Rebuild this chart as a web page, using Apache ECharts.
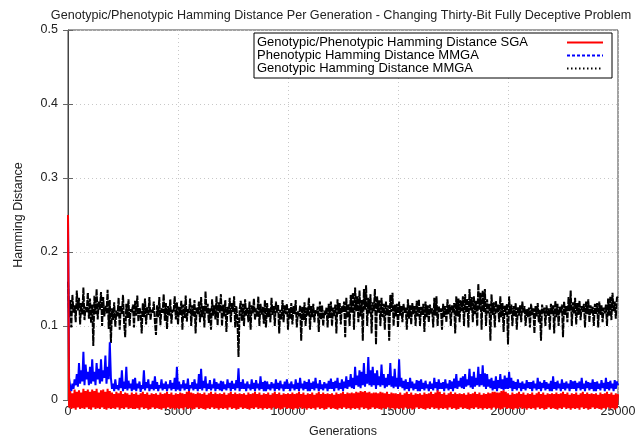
<!DOCTYPE html>
<html>
<head>
<meta charset="utf-8">
<title>Hamming Distance Per Generation</title>
<script src="https://cdn.jsdelivr.net/npm/echarts@6/dist/echarts.min.js"></script>
<style>
  html, body { margin: 0; padding: 0; background: #fff; }
  #chart { width: 635px; height: 439px; }
</style>
</head>
<body>
<div id="chart"></div>
<script>
// Sampled every 50 generations, 0 .. 25000
const STEP = 50;

const seriesNames = [
  'Genotypic/Phenotypic Hamming Distance SGA',
  'Phenotypic Hamming Distance MMGA',
  'Genotypic Hamming Distance MMGA'
];

const xTicks = [0, 5000, 10000, 15000, 20000, 25000];
const yTicks = [0, 0.1, 0.2, 0.3, 0.4, 0.5];

// SGA genotypic/phenotypic distance (one row = 1000 generations)
const sgaDistance = [
  0.25, -0.01, 0.012, -0.012, 0.009, -0.011, 0.014, -0.013, 0.011, -0.01, 0.013, -0.012, 0.01, -0.011, 0.015, -0.012, 0.012, -0.01, 0.014, -0.012,
  0.011, -0.013, 0.014, -0.01, 0.012, -0.012, 0.015, -0.011, 0.01, -0.012, 0.013, -0.01, 0.014, -0.012, 0.011, -0.013, 0.015, -0.011, 0.012, -0.012,
  0.01, -0.011, 0.008, -0.012, 0.011, -0.01, 0.009, -0.013, 0.012, -0.011, 0.008, -0.012, 0.01, -0.01, 0.009, -0.012, 0.007, -0.011, 0.01, -0.012,
  0.008, -0.012, 0.01, -0.011, 0.007, -0.013, 0.009, -0.01, 0.011, -0.012, 0.008, -0.011, 0.01, -0.013, 0.007, -0.012, 0.009, -0.01, 0.008, -0.012,
  0.009, -0.011, 0.007, -0.012, 0.01, -0.013, 0.008, -0.011, 0.009, -0.012, 0.011, -0.01, 0.008, -0.012, 0.01, -0.011, 0.007, -0.013, 0.009, -0.011,
  0.008, -0.012, 0.01, -0.011, 0.009, -0.013, 0.008, -0.01, 0.011, -0.012, 0.012, -0.011, 0.01, -0.013, 0.009, -0.012, 0.008, -0.01, 0.01, -0.012,
  0.009, -0.011, 0.008, -0.012, 0.01, -0.013, 0.007, -0.011, 0.009, -0.012, 0.011, -0.01, 0.008, -0.012, 0.01, -0.011, 0.008, -0.013, 0.009, -0.011,
  0.008, -0.012, 0.01, -0.011, 0.007, -0.013, 0.009, -0.01, 0.011, -0.012, 0.008, -0.011, 0.01, -0.013, 0.008, -0.012, 0.009, -0.01, 0.008, -0.012,
  0.009, -0.011, 0.007, -0.012, 0.01, -0.013, 0.008, -0.011, 0.009, -0.012, 0.011, -0.01, 0.008, -0.012, 0.01, -0.011, 0.007, -0.013, 0.009, -0.011,
  0.008, -0.012, 0.01, -0.011, 0.007, -0.013, 0.009, -0.01, 0.011, -0.012, 0.008, -0.011, 0.01, -0.013, 0.007, -0.012, 0.009, -0.01, 0.008, -0.012,
  0.009, -0.011, 0.008, -0.012, 0.01, -0.013, 0.008, -0.011, 0.009, -0.012, 0.011, -0.01, 0.008, -0.012, 0.01, -0.011, 0.007, -0.013, 0.009, -0.011,
  0.008, -0.012, 0.01, -0.011, 0.007, -0.013, 0.009, -0.01, 0.011, -0.012, 0.008, -0.011, 0.01, -0.013, 0.008, -0.012, 0.009, -0.01, 0.008, -0.012,
  0.009, -0.011, 0.007, -0.012, 0.01, -0.013, 0.008, -0.011, 0.009, -0.012, 0.011, -0.01, 0.008, -0.012, 0.01, -0.011, 0.009, -0.013, 0.01, -0.011,
  0.009, -0.012, 0.011, -0.011, 0.01, -0.013, 0.012, -0.01, 0.011, -0.012, 0.012, -0.011, 0.01, -0.013, 0.011, -0.012, 0.009, -0.01, 0.01, -0.012,
  0.01, -0.011, 0.009, -0.012, 0.011, -0.013, 0.01, -0.011, 0.009, -0.012, 0.011, -0.01, 0.008, -0.012, 0.01, -0.011, 0.009, -0.013, 0.009, -0.011,
  0.008, -0.012, 0.01, -0.011, 0.007, -0.013, 0.009, -0.01, 0.011, -0.012, 0.008, -0.011, 0.01, -0.013, 0.007, -0.012, 0.009, -0.01, 0.008, -0.012,
  0.009, -0.011, 0.007, -0.012, 0.01, -0.013, 0.008, -0.011, 0.009, -0.012, 0.011, -0.01, 0.008, -0.012, 0.01, -0.011, 0.013, -0.013, 0.011, -0.011,
  0.008, -0.012, 0.01, -0.011, 0.007, -0.013, 0.009, -0.01, 0.011, -0.012, 0.008, -0.011, 0.01, -0.013, 0.008, -0.012, 0.009, -0.01, 0.008, -0.012,
  0.009, -0.011, 0.007, -0.012, 0.01, -0.013, 0.008, -0.011, 0.009, -0.012, 0.011, -0.01, 0.008, -0.012, 0.01, -0.011, 0.007, -0.013, 0.009, -0.011,
  0.008, -0.012, 0.01, -0.011, 0.009, -0.013, 0.011, -0.01, 0.011, -0.012, 0.01, -0.011, 0.01, -0.013, 0.012, -0.012, 0.013, -0.01, 0.011, -0.012,
  0.009, -0.011, 0.007, -0.012, 0.01, -0.013, 0.008, -0.011, 0.009, -0.012, 0.011, -0.01, 0.008, -0.012, 0.01, -0.011, 0.007, -0.013, 0.009, -0.011,
  0.008, -0.012, 0.01, -0.011, 0.007, -0.013, 0.009, -0.01, 0.011, -0.012, 0.008, -0.011, 0.01, -0.013, 0.007, -0.012, 0.009, -0.01, 0.008, -0.012,
  0.009, -0.011, 0.008, -0.012, 0.01, -0.013, 0.008, -0.011, 0.009, -0.012, 0.011, -0.01, 0.008, -0.012, 0.01, -0.011, 0.007, -0.013, 0.009, -0.011,
  0.008, -0.012, 0.01, -0.011, 0.007, -0.013, 0.009, -0.01, 0.011, -0.012, 0.008, -0.011, 0.01, -0.013, 0.008, -0.012, 0.009, -0.01, 0.008, -0.012,
  0.009, -0.011, 0.007, -0.012, 0.01, -0.013, 0.008, -0.011, 0.009, -0.012, 0.011, -0.01, 0.008, -0.012, 0.01, -0.011, 0.007, -0.013, 0.009, -0.011,
  0.008
];

// MMGA phenotypic distance
const mmgaPhenotypic = [
  0.25, 0.03, 0.018, 0.012, 0.022, 0.015, 0.028, 0.02, 0.035, 0.018, 0.05, 0.022, 0.04, 0.025, 0.065, 0.02, 0.048, 0.028, 0.038, 0.02,
  0.045, 0.022, 0.055, 0.025, 0.038, 0.02, 0.05, 0.028, 0.042, 0.022, 0.055, 0.025, 0.04, 0.03, 0.06, 0.022, 0.045, 0.028, 0.078, 0.03,
  0.015, 0.022, 0.012, 0.028, 0.015, 0.02, 0.013, 0.03, 0.016, 0.04, 0.012, 0.025, 0.015, 0.045, 0.013, 0.026, 0.016, 0.022, 0.012, 0.028,
  0.014, 0.03, 0.012, 0.022, 0.016, 0.025, 0.011, 0.02, 0.015, 0.04, 0.013, 0.024, 0.016, 0.028, 0.012, 0.021, 0.015, 0.026, 0.013, 0.032,
  0.015, 0.024, 0.012, 0.02, 0.016, 0.028, 0.013, 0.022, 0.015, 0.025, 0.012, 0.021, 0.016, 0.027, 0.013, 0.023, 0.015, 0.03, 0.012, 0.045,
  0.014, 0.025, 0.012, 0.021, 0.016, 0.027, 0.013, 0.022, 0.015, 0.029, 0.012, 0.02, 0.016, 0.024, 0.013, 0.028, 0.015, 0.022, 0.012, 0.035,
  0.015, 0.042, 0.013, 0.026, 0.016, 0.032, 0.012, 0.022, 0.015, 0.027, 0.013, 0.021, 0.016, 0.029, 0.012, 0.024, 0.015, 0.022, 0.013, 0.026,
  0.012, 0.025, 0.015, 0.021, 0.013, 0.028, 0.016, 0.023, 0.012, 0.026, 0.015, 0.022, 0.013, 0.027, 0.016, 0.043, 0.012, 0.024, 0.015, 0.028,
  0.015, 0.022, 0.012, 0.025, 0.016, 0.021, 0.013, 0.028, 0.015, 0.023, 0.012, 0.027, 0.016, 0.022, 0.013, 0.032, 0.015, 0.024, 0.012, 0.026,
  0.012, 0.025, 0.015, 0.021, 0.013, 0.024, 0.016, 0.022, 0.012, 0.028, 0.015, 0.023, 0.013, 0.026, 0.016, 0.021, 0.012, 0.025, 0.015, 0.028,
  0.015, 0.022, 0.012, 0.025, 0.016, 0.021, 0.013, 0.028, 0.015, 0.023, 0.012, 0.03, 0.016, 0.022, 0.013, 0.026, 0.015, 0.024, 0.012, 0.028,
  0.012, 0.023, 0.015, 0.025, 0.013, 0.03, 0.016, 0.022, 0.012, 0.027, 0.015, 0.021, 0.013, 0.024, 0.016, 0.022, 0.012, 0.026, 0.015, 0.029,
  0.015, 0.024, 0.012, 0.026, 0.016, 0.03, 0.013, 0.023, 0.015, 0.028, 0.012, 0.025, 0.016, 0.032, 0.015, 0.027, 0.018, 0.035, 0.016, 0.03,
  0.015, 0.045, 0.02, 0.033, 0.018, 0.04, 0.016, 0.038, 0.02, 0.05, 0.018, 0.035, 0.022, 0.058, 0.02, 0.04, 0.018, 0.045, 0.02, 0.036,
  0.015, 0.04, 0.02, 0.032, 0.018, 0.048, 0.02, 0.035, 0.016, 0.03, 0.018, 0.035, 0.02, 0.05, 0.018, 0.032, 0.016, 0.042, 0.018, 0.03,
  0.015, 0.055, 0.018, 0.03, 0.016, 0.026, 0.013, 0.028, 0.015, 0.024, 0.012, 0.03, 0.016, 0.025, 0.013, 0.022, 0.015, 0.027, 0.012, 0.026,
  0.012, 0.028, 0.015, 0.023, 0.013, 0.026, 0.016, 0.021, 0.012, 0.025, 0.015, 0.022, 0.013, 0.03, 0.016, 0.024, 0.012, 0.028, 0.015, 0.023,
  0.015, 0.024, 0.012, 0.028, 0.016, 0.022, 0.013, 0.027, 0.015, 0.025, 0.012, 0.029, 0.016, 0.035, 0.015, 0.026, 0.018, 0.03, 0.016, 0.032,
  0.015, 0.035, 0.018, 0.028, 0.02, 0.042, 0.017, 0.032, 0.015, 0.038, 0.018, 0.03, 0.02, 0.045, 0.018, 0.035, 0.02, 0.047, 0.018, 0.036,
  0.015, 0.035, 0.018, 0.028, 0.016, 0.03, 0.013, 0.026, 0.015, 0.032, 0.012, 0.027, 0.016, 0.035, 0.015, 0.028, 0.013, 0.033, 0.015, 0.03,
  0.015, 0.038, 0.016, 0.03, 0.012, 0.026, 0.015, 0.024, 0.013, 0.028, 0.016, 0.023, 0.012, 0.025, 0.015, 0.022, 0.013, 0.027, 0.016, 0.024,
  0.015, 0.024, 0.012, 0.026, 0.016, 0.022, 0.013, 0.03, 0.015, 0.025, 0.012, 0.023, 0.016, 0.027, 0.013, 0.024, 0.015, 0.022, 0.012, 0.026,
  0.012, 0.032, 0.015, 0.024, 0.013, 0.026, 0.016, 0.022, 0.012, 0.028, 0.015, 0.023, 0.013, 0.025, 0.016, 0.022, 0.012, 0.027, 0.015, 0.025,
  0.015, 0.026, 0.012, 0.023, 0.016, 0.025, 0.013, 0.03, 0.015, 0.022, 0.012, 0.026, 0.016, 0.024, 0.013, 0.023, 0.015, 0.028, 0.012, 0.024,
  0.012, 0.025, 0.015, 0.022, 0.013, 0.027, 0.016, 0.023, 0.012, 0.03, 0.015, 0.024, 0.013, 0.026, 0.016, 0.022, 0.012, 0.027, 0.015, 0.025,
  0.02
];

// MMGA genotypic distance
const mmgaGenotypic = [
  0.16, 0.112, 0.135, 0.098, 0.142, 0.118, 0.128, 0.105, 0.148, 0.121, 0.138, 0.102, 0.131, 0.115, 0.152, 0.108, 0.126, 0.119, 0.145, 0.11,
  0.137, 0.104, 0.129, 0.073, 0.141, 0.116, 0.15, 0.109, 0.133, 0.122, 0.146, 0.1, 0.139, 0.113, 0.128, 0.117, 0.149, 0.096, 0.135, 0.077,
  0.124, 0.108, 0.132, 0.099, 0.121, 0.113, 0.138, 0.095, 0.127, 0.116, 0.142, 0.104, 0.085, 0.13, 0.111, 0.136, 0.1, 0.123, 0.118, 0.129,
  0.098, 0.134, 0.114, 0.141, 0.106, 0.125, 0.119, 0.09, 0.131, 0.112, 0.137, 0.102, 0.126, 0.115, 0.139, 0.108, 0.122, 0.117, 0.133, 0.105,
  0.088, 0.128, 0.112, 0.139, 0.101, 0.124, 0.118, 0.143, 0.107, 0.131, 0.096, 0.127, 0.114, 0.136, 0.103, 0.122, 0.119, 0.14, 0.109, 0.132,
  0.102, 0.126, 0.115, 0.134, 0.095, 0.129, 0.111, 0.141, 0.106, 0.123, 0.118, 0.137, 0.1, 0.128, 0.113, 0.135, 0.09, 0.125, 0.116, 0.133,
  0.105, 0.139, 0.112, 0.127, 0.098, 0.147, 0.117, 0.13, 0.104, 0.124, 0.095, 0.136, 0.114, 0.128, 0.109, 0.14, 0.101, 0.132, 0.118, 0.143,
  0.1, 0.129, 0.113, 0.135, 0.092, 0.126, 0.116, 0.138, 0.105, 0.131, 0.119, 0.14, 0.098, 0.127, 0.11, 0.058, 0.122, 0.134, 0.107, 0.13,
  0.1, 0.136, 0.114, 0.125, 0.105, 0.133, 0.095, 0.128, 0.117, 0.137, 0.108, 0.124, 0.112, 0.14, 0.1, 0.13, 0.115, 0.126, 0.103, 0.135,
  0.098, 0.131, 0.112, 0.124, 0.105, 0.138, 0.115, 0.127, 0.1, 0.133, 0.118, 0.129, 0.09, 0.122, 0.109, 0.135, 0.105, 0.128, 0.116, 0.13,
  0.095, 0.124, 0.11, 0.131, 0.102, 0.127, 0.116, 0.135, 0.098, 0.12, 0.113, 0.128, 0.08, 0.126, 0.108, 0.132, 0.1, 0.125, 0.114, 0.138,
  0.095, 0.127, 0.112, 0.13, 0.105, 0.122, 0.117, 0.126, 0.092, 0.133, 0.109, 0.128, 0.1, 0.121, 0.115, 0.125, 0.098, 0.13, 0.111, 0.133,
  0.1, 0.125, 0.113, 0.129, 0.09, 0.136, 0.116, 0.131, 0.102, 0.127, 0.119, 0.133, 0.085, 0.138, 0.111, 0.13, 0.1, 0.142, 0.118, 0.145,
  0.095, 0.152, 0.12, 0.14, 0.105, 0.148, 0.113, 0.135, 0.08, 0.15, 0.122, 0.155, 0.1, 0.138, 0.117, 0.143, 0.09, 0.132, 0.12, 0.15,
  0.075, 0.14, 0.118, 0.135, 0.1, 0.138, 0.112, 0.13, 0.095, 0.133, 0.115, 0.128, 0.08, 0.142, 0.119, 0.145, 0.1, 0.129, 0.113, 0.13,
  0.098, 0.133, 0.114, 0.127, 0.105, 0.13, 0.118, 0.125, 0.095, 0.136, 0.11, 0.128, 0.102, 0.131, 0.116, 0.127, 0.1, 0.134, 0.113, 0.136,
  0.1, 0.126, 0.115, 0.13, 0.092, 0.133, 0.112, 0.128, 0.105, 0.129, 0.117, 0.124, 0.098, 0.138, 0.114, 0.14, 0.1, 0.127, 0.119, 0.124,
  0.095, 0.13, 0.112, 0.127, 0.105, 0.136, 0.116, 0.129, 0.1, 0.128, 0.118, 0.131, 0.09, 0.14, 0.113, 0.137, 0.105, 0.135, 0.12, 0.14,
  0.1, 0.143, 0.118, 0.137, 0.098, 0.15, 0.121, 0.139, 0.105, 0.14, 0.116, 0.134, 0.1, 0.157, 0.122, 0.145, 0.095, 0.148, 0.119, 0.15,
  0.1, 0.136, 0.117, 0.13, 0.08, 0.143, 0.115, 0.132, 0.098, 0.134, 0.118, 0.129, 0.105, 0.14, 0.112, 0.131, 0.092, 0.128, 0.115, 0.13,
  0.075, 0.14, 0.116, 0.129, 0.1, 0.127, 0.113, 0.131, 0.095, 0.126, 0.114, 0.128, 0.105, 0.133, 0.118, 0.127, 0.1, 0.123, 0.112, 0.125,
  0.098, 0.13, 0.115, 0.124, 0.09, 0.127, 0.113, 0.131, 0.105, 0.122, 0.08, 0.129, 0.117, 0.125, 0.1, 0.128, 0.114, 0.124, 0.095, 0.13,
  0.116, 0.128, 0.09, 0.134, 0.112, 0.13, 0.1, 0.126, 0.118, 0.129, 0.085, 0.133, 0.115, 0.127, 0.105, 0.139, 0.12, 0.148, 0.1, 0.132,
  0.117, 0.138, 0.102, 0.131, 0.115, 0.134, 0.108, 0.127, 0.119, 0.13, 0.098, 0.133, 0.116, 0.136, 0.105, 0.128, 0.117, 0.126, 0.1, 0.13,
  0.116, 0.131, 0.098, 0.133, 0.115, 0.128, 0.105, 0.125, 0.117, 0.129, 0.1, 0.137, 0.114, 0.14, 0.108, 0.145, 0.12, 0.133, 0.11, 0.138,
  0.14
];

const seriesColors = ['#ff0000', '#0000ff', '#000000'];
const legendDash = ['solid', [3, 2], [1.5, 2.5]];

const toPairs = values => values.map((v, i) => [i * STEP, v]);

const FONT = '"Liberation Sans", Arial, Helvetica, sans-serif';
const TEXT = '#222';

const chart = echarts.init(document.getElementById('chart'), null, { renderer: 'canvas' });

const xRange = { min: xTicks[0], max: xTicks[xTicks.length - 1], interval: xTicks[1] - xTicks[0] };
const yRange = { min: yTicks[0], max: yTicks[yTicks.length - 1], interval: yTicks[1] - yTicks[0] };
const innerTick = { show: true, inside: true, length: 5, lineStyle: { color: '#666' } };
const gridDots = { show: true, lineStyle: { color: '#c8c8c8', type: [1, 3] } };

chart.setOption({
  animation: false,
  backgroundColor: '#fff',
  title: {
    text: 'Genotypic/Phenotypic Hamming Distance Per Generation - Changing Thirty-Bit Fully Deceptive Problem',
    left: 336, top: 4, textAlign: 'center',
    textStyle: { fontFamily: FONT, fontSize: 12.6, fontWeight: 'normal', color: TEXT }
  },
  legend: {
    orient: 'vertical',
    right: 23, top: 33,
    align: 'right',
    backgroundColor: '#fff',
    borderColor: '#000', borderWidth: 1,
    padding: [3, 8, 3, 3],
    itemGap: 0,
    itemWidth: 36, itemHeight: 13,
    formatter: name => '{t|' + name + '}',
    textStyle: {
      fontFamily: FONT, fontSize: 13, color: '#000',
      rich: { t: { fontFamily: FONT, fontSize: 13, lineHeight: 13, color: '#000', width: 305, align: 'left' } }
    },
    data: seriesNames.map((n, i) => ({
      name: n,
      itemStyle: { opacity: 0 },
      lineStyle: { color: seriesColors[i], width: 2, type: legendDash[i] }
    }))
  },
  grid: {
    left: 68, right: 17, top: 30, bottom: 39,
    outerBoundsMode: 'none',
    containLabel: false,
    show: true, borderColor: '#444', borderWidth: 1, backgroundColor: 'transparent'
  },
  xAxis: [
    Object.assign({
      type: 'value',
      name: 'Generations', nameLocation: 'middle', nameGap: 25,
      nameTextStyle: { fontFamily: FONT, fontSize: 12.5, color: TEXT },
      axisLine: { show: true, lineStyle: { color: '#444' } },
      axisTick: innerTick,
      axisLabel: { fontFamily: FONT, fontSize: 12.5, color: TEXT, margin: 5, formatter: v => String(v) },
      splitLine: gridDots
    }, xRange),
    Object.assign({
      type: 'value', position: 'top',
      axisLine: { show: false },
      axisTick: innerTick,
      axisLabel: { show: false },
      splitLine: { show: false }
    }, xRange)
  ],
  yAxis: [
    Object.assign({
      type: 'value',
      name: 'Hamming Distance', nameLocation: 'middle', nameGap: 43, nameRotate: 90,
      nameTextStyle: { fontFamily: FONT, fontSize: 12.5, color: TEXT },
      axisLine: { show: true, lineStyle: { color: '#444' } },
      axisTick: innerTick,
      axisLabel: { fontFamily: FONT, fontSize: 12.5, color: TEXT, margin: 10 },
      splitLine: gridDots
    }, yRange),
    Object.assign({
      type: 'value', position: 'right',
      axisLine: { show: false },
      axisTick: innerTick,
      axisLabel: { show: false },
      splitLine: { show: false }
    }, yRange)
  ],
  series: [
    {
      name: seriesNames[0], type: 'line', data: toPairs(sgaDistance),
      symbol: 'none', clip: false, z: 5,
      lineStyle: { color: seriesColors[0], width: 2 },
      itemStyle: { color: seriesColors[0] }
    },
    {
      name: seriesNames[1], type: 'line', data: toPairs(mmgaPhenotypic),
      symbol: 'none', z: 4,
      lineStyle: { color: seriesColors[1], width: 2 },
      itemStyle: { color: seriesColors[1] }
    },
    {
      name: seriesNames[2], type: 'line', data: toPairs(mmgaGenotypic),
      symbol: 'none', z: 3,
      lineStyle: { color: seriesColors[2], width: 2, type: [6, 1] },
      itemStyle: { color: seriesColors[2] }
    }
  ]
});
</script>
</body>
</html>
